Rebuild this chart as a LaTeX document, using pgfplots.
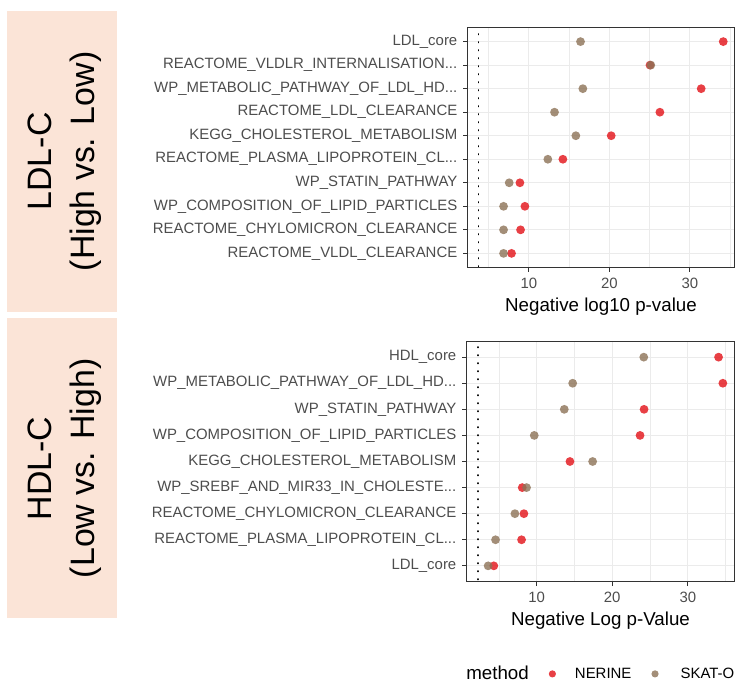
\documentclass[border=0pt]{standalone}
\usepackage{pgfplots}
\usepackage{pgfplotstable}
\pgfplotsset{compat=1.18}
\usepackage{fontspec}
\setmainfont{Liberation Sans}
\definecolor{nerine}{RGB}{228,30,36}
\definecolor{skato}{RGB}{140,114,86}
\definecolor{stripbg}{RGB}{251,228,215}
\definecolor{gridc}{RGB}{235,235,235}
\definecolor{tickc}{RGB}{77,77,77}
\definecolor{framec}{RGB}{51,51,51}
\newcommand{\trd}{.{}.{}.}

\pgfplotstableread{
row nerine skato
1 34.15 16.42
2 25.05 25.15
3 31.41 16.71
4 26.28 13.19
5 20.23 15.84
6 14.23 12.36
7 8.89 7.56
8 9.51 6.86
9 8.97 6.86
10 7.85 6.86
}\ldltable

\pgfplotstableread{
row nerine skato
1 34.06 24.17
2 34.63 14.77
3 24.21 13.66
4 23.68 9.69
5 14.41 17.41
6 8.10 8.67
7 8.32 7.13
8 8.01 4.57
9 4.34 3.59
}\hdltable

\pgfplotsset{
  panel/.style={
    scale only axis,
    y dir=reverse,
    ymin=0.4,
    axis line style={framec, line width=1.1bp},
    tick align=outside,
    xtick pos=bottom, ytick pos=left,
    major tick length=4.5bp, minor tick length=0bp,
    tick style={framec, line width=1.1bp},
    xtick={10,20,30}, minor xtick={5,15,25,35},
    grid=both,
    major grid style={gridc, line width=1.1bp},
    minor grid style={gridc, line width=0.55bp},
    /pgf/number format/assume math mode=true,
    xticklabel style={font=\fontsize{15}{15}\selectfont, text=tickc, inner sep=0pt, yshift=-5.5bp},
    yticklabel style={font=\fontsize{15}{15}\selectfont, text=tickc, inner sep=0pt, xshift=-5.5bp},
    xlabel style={font=\fontsize{18.8}{18.8}\selectfont, at={(axis description cs:0.5,0)}, anchor=north, inner sep=0pt, yshift=-30bp},
  },
  vline/.style={black, line width=1.9bp, line cap=round, dash pattern=on 0.3bp off 7.7bp},
  nerpts/.style={only marks, mark=*, mark size=4.4bp, mark options={draw=nerine, draw opacity=0, fill=nerine, fill opacity=0.85}},
  skapts/.style={only marks, mark=*, mark size=4.4bp, mark options={draw=skato, draw opacity=0, fill=skato, fill opacity=0.8}},
}

\begin{document}
\begin{tikzpicture}[x=1bp,y=1bp]
\path[use as bounding box] (0,0) rectangle (737,683);

% strips
\fill[stripbg] (7.3,371.3) rectangle (117.3,672);
\fill[stripbg] (7.3,64.7) rectangle (117.3,364.7);
\node[rotate=90, align=center, font=\fontsize{34}{43}\selectfont, inner sep=0pt] at (64.5,521.6) {LDL-C\\(High vs. Low)};
\node[rotate=90, align=center, font=\fontsize{34}{43}\selectfont, inner sep=0pt] at (64.5,214.7) {HDL-C\\(Low vs. High)};

% top panel
\begin{axis}[panel,
  at={(467.5bp,415.5bp)}, anchor=south west,
  width=267bp, height=240bp,
  xmin=2.38, xmax=35.55, ymax=10.6,
  ytick={1,2,3,4,5,6,7,8,9,10},
  yticklabels={{LDL\_core}, {REACTOME\_VLDLR\_INTERNALISATION\trd}, {WP\_METABOLIC\_PATHWAY\_OF\_LDL\_HD\trd}, {REACTOME\_LDL\_CLEARANCE}, {KEGG\_CHOLESTEROL\_METABOLISM}, {REACTOME\_PLASMA\_LIPOPROTEIN\_CL\trd}, {WP\_STATIN\_PATHWAY}, {WP\_COMPOSITION\_OF\_LIPID\_PARTICLES}, {REACTOME\_CHYLOMICRON\_CLEARANCE}, {REACTOME\_VLDL\_CLEARANCE}},
  xlabel={Negative log10 p-value},
]
\addplot[vline] coordinates {(3.75,0) (3.75,11)};
\addplot[nerpts] table[x=nerine, y=row] {\ldltable};
\addplot[skapts] table[x=skato, y=row] {\ldltable};
\draw[framec, line width=1.25bp] (rel axis cs:0,0) rectangle (rel axis cs:1,1);
\end{axis}

% bottom panel
\begin{axis}[panel,
  at={(466.5bp,101.5bp)}, anchor=south west,
  width=268bp, height=240bp,
  xmin=0.73, xmax=36.17, ymax=9.6,
  ytick={1,2,3,4,5,6,7,8,9},
  yticklabels={{HDL\_core}, {WP\_METABOLIC\_PATHWAY\_OF\_LDL\_HD\trd}, {WP\_STATIN\_PATHWAY}, {WP\_COMPOSITION\_OF\_LIPID\_PARTICLES}, {KEGG\_CHOLESTEROL\_METABOLISM}, {WP\_SREBF\_AND\_MIR33\_IN\_CHOLESTE\trd}, {REACTOME\_CHYLOMICRON\_CLEARANCE}, {REACTOME\_PLASMA\_LIPOPROTEIN\_CL\trd}, {LDL\_core}},
  xlabel={Negative Log p-Value},
  legend style={at={(axis description cs:1.0075,-0.385)}, anchor=east, draw=none, fill=none,
    legend columns=-1, inner sep=0pt, font=\fontsize{15}{15}\selectfont,
    /tikz/every odd column/.append style={column sep=17bp},
    /tikz/every even column/.append style={column sep=18bp}},
  legend cell align=left,
]
\addlegendimage{empty legend}
\addlegendentry{\fontsize{18.8}{18.8}\selectfont method\hspace{7bp}}
\addlegendimage{only marks, mark=*, mark size=3.6bp, mark options={draw=nerine, draw opacity=0, fill=nerine, fill opacity=0.85}}
\addlegendentry{NERINE}
\addlegendimage{only marks, mark=*, mark size=3.6bp, mark options={draw=skato, draw opacity=0, fill=skato, fill opacity=0.8}}
\addlegendentry{\hspace{3bp}SKAT-O}
\addplot[vline, forget plot] coordinates {(2.22,0) (2.22,10)};
\addplot[nerpts, forget plot] table[x=nerine, y=row] {\hdltable};
\addplot[skapts, forget plot] table[x=skato, y=row] {\hdltable};
\draw[framec, line width=1.25bp] (rel axis cs:0,0) rectangle (rel axis cs:1,1);
\end{axis}
\end{tikzpicture}
\end{document}
